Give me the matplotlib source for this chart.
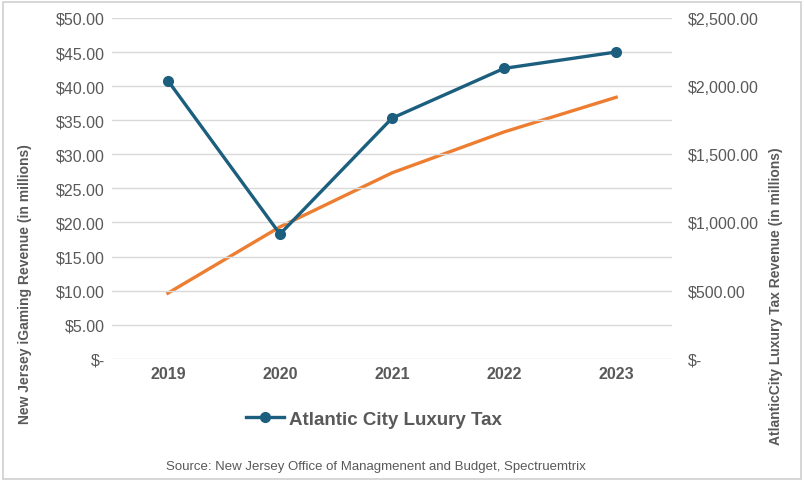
import matplotlib.pyplot as plt
from matplotlib.patches import Rectangle
from matplotlib.lines import Line2D
from matplotlib.ticker import FuncFormatter

years = ['2019', '2020', '2021', '2022', '2023']
luxury_tax = [40.8, 18.3, 35.3, 42.6, 45.0]        # left axis, $ millions
igaming = [482, 968, 1364, 1664, 1918]             # right axis, $ millions

plt.rcParams['font.family'] = ['Liberation Sans', 'DejaVu Sans']
gray = '#595959'
blue = '#1b5e7e'
orange = '#ed7d31'

fig = plt.figure(figsize=(8.05, 4.85), dpi=100)
ax = fig.add_axes([0.139, 0.258, 0.696, 0.703])
ax2 = ax.twinx()

x = range(len(years))
ax.plot(x, luxury_tax, color=blue, lw=2.4, marker='o', ms=7, zorder=3)
ax2.plot(x, igaming, color=orange, lw=2.4, zorder=2)
ax.set_zorder(ax2.get_zorder() + 1)
ax.patch.set_visible(False)

def money(v, pos):
    return '$-' if abs(v) < 1e-9 else f'${v:,.2f}'

ax.set_xlim(-0.5, 4.5)
ax.set_ylim(0, 50)
ax.set_yticks(range(0, 51, 5))
ax2.set_ylim(0, 2500)
ax2.set_yticks(range(0, 2501, 500))
ax.yaxis.set_major_formatter(FuncFormatter(money))
ax2.yaxis.set_major_formatter(FuncFormatter(money))
ax.set_xticks(list(x))
ax.set_xticklabels(years, fontweight='bold')
ax.grid(axis='y', color='#d9d9d9', lw=1)
ax.set_axisbelow(True)

for a in (ax, ax2):
    for s in a.spines.values():
        s.set_visible(False)
ax.tick_params(axis='y', length=0, labelsize=11.5, labelcolor=gray, pad=5)
ax.tick_params(axis='x', length=0, labelsize=11.5, labelcolor=gray, pad=5)
ax2.tick_params(axis='y', length=0, labelsize=11.5, labelcolor=gray, pad=11)

fig.text(0.031, 0.415, 'New Jersey iGaming Revenue (in millions)', rotation=90,
         ha='center', va='center', fontsize=10, fontweight='bold', color=gray)
fig.text(0.964, 0.39, 'AtlanticCity Luxury Tax Revenue (in millions)', rotation=90,
         ha='center', va='center', fontsize=10, fontweight='bold', color=gray)

handle = Line2D([], [], color=blue, lw=2.4, marker='o', ms=7)
fig.legend([handle], ['Atlantic City Luxury Tax'], loc='center',
           bbox_to_anchor=(0.465, 0.134), frameon=False, handlelength=2.0,
           handletextpad=0.3, prop={'size': 13.5, 'weight': 'bold'},
           labelcolor=gray)

fig.text(0.467, 0.037, 'Source: New Jersey Office of Managmenent and Budget, Spectruemtrix',
         ha='center', va='center', fontsize=9.5, color=gray)

fig.patches.append(Rectangle((0.004, 0.01), 0.991, 0.983, transform=fig.transFigure,
                             fill=False, ec='#d0d0d0', lw=1.2))

fig.savefig('out.png', dpi=100)
